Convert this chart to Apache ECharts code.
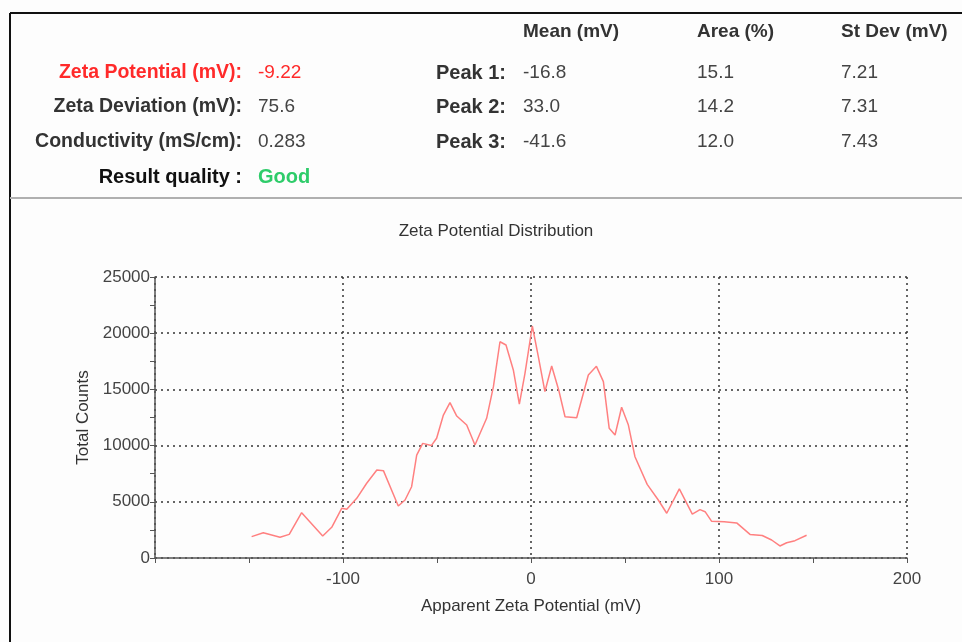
<!DOCTYPE html>
<html>
<head>
<meta charset="utf-8">
<script src="https://cdn.jsdelivr.net/npm/echarts@6/dist/echarts.min.js"></script>
<style>
html,body{margin:0;padding:0;background:#fdfdfd;}
#chart{width:962px;height:642px;}
</style>
</head>
<body>
<div id="chart"></div>
<script>
// Distribution data (Apparent Zeta Potential in mV, Total Counts)
const zetaMv = [-148.6,-142.4,-133.5,-128.6,-122,-110.8,-106,-100.7,-98,-92.7,-87.4,-82,-78.5,-70.6,-67,-63.5,-60.8,-57.6,-53,-50.2,-46.6,-43.1,-39.5,-34.2,-29.8,-23.6,-20,-16.5,-13.3,-9.4,-6.2,-3.2,0.7,3.9,7.4,11,14.8,18.1,24.3,30.5,34.8,38.5,41.6,44.7,48.2,51.8,55.3,61.8,67.7,72.2,78.9,85.8,89.9,92.6,96.1,102.8,109.4,116.5,123,128,132.4,136,140.4,146.6];
const totalCounts = [1900,2250,1850,2100,4030,1960,2730,4420,4330,5310,6650,7830,7770,4630,5160,6340,9160,10200,10000,10650,12720,13820,12630,11830,10050,12430,15240,19240,18950,16730,13700,16430,20640,17910,14800,17080,14900,12570,12480,16280,17050,15690,11540,10940,13410,11830,9010,6550,5160,3980,6150,3910,4300,4120,3260,3230,3120,2100,2000,1600,1070,1360,1540,2020];

// Summary panel text
const summaryLabels = ["Zeta Potential (mV):","Zeta Deviation (mV):","Conductivity (mS/cm):","Result quality :"];
const summaryValues = ["-9.22","75.6","0.283","Good"];
const peakHeaders = ["Mean (mV)","Area (%)","St Dev (mV)"];
const peakLabels = ["Peak 1:","Peak 2:","Peak 3:"];
const peakMean = ["-16.8","33.0","-41.6"];
const peakArea = ["15.1","14.2","12.0"];
const peakStDev = ["7.21","7.31","7.43"];

const chart = echarts.init(document.getElementById('chart'));
const F = 'Liberation Sans, Arial, sans-serif';

const graphics = [];
// frame lines
graphics.push({type:'line',shape:{x1:10,y1:13,x2:962,y2:13},style:{stroke:'#111',lineWidth:2}});
graphics.push({type:'line',shape:{x1:10,y1:13,x2:10,y2:642},style:{stroke:'#111',lineWidth:2}});
graphics.push({type:'line',shape:{x1:10,y1:198,x2:962,y2:198},style:{stroke:'#b0b0b0',lineWidth:2}});

const rowY = [73,107,142,177];
summaryLabels.forEach((t,i)=>{
  const red = i===0, big = i===3;
  graphics.push({type:'text',style:{text:t,x:242,y:rowY[i],align:'right',verticalAlign:'middle',
    font:'bold '+(big?20:19.5)+'px '+F,fill:red?'#ff2a2a':(big?'#111':'#333')}});
});
summaryValues.forEach((t,i)=>{
  const red = i===0, good = i===3;
  graphics.push({type:'text',style:{text:t,x:258,y:rowY[i],align:'left',verticalAlign:'middle',
    font:(good?'bold 20px ':'19px ')+F,fill:red?'#ff2a2a':(good?'#2ecc6a':'#444')}});
});
const colX = [523,697,841];
peakHeaders.forEach((t,i)=>{
  graphics.push({type:'text',style:{text:t,x:colX[i],y:32,align:'left',verticalAlign:'middle',font:'bold 19px '+F,fill:'#333'}});
});
peakLabels.forEach((t,i)=>{
  graphics.push({type:'text',style:{text:t,x:506,y:rowY[i],align:'right',verticalAlign:'middle',font:'bold 20px '+F,fill:'#333'}});
  [peakMean,peakArea,peakStDev].forEach((arr,j)=>{
    graphics.push({type:'text',style:{text:arr[i],x:colX[j],y:rowY[i],align:'left',verticalAlign:'middle',font:'19px '+F,fill:'#444'}});
  });
});

const dotted = {color:'#333',width:1.5,type:[2,4]};
chart.setOption({
  backgroundColor:'#fdfdfd',
  animation:false,
  title:{text:'Zeta Potential Distribution',left:491,top:218,textAlign:'center',
    textStyle:{fontFamily:F,fontSize:17,fontWeight:'normal',color:'#333'}},
  grid:{left:155,right:55,top:277,bottom:84,containLabel:false},
  xAxis:{type:'value',min:-200,max:200,interval:100,
    name:'Apparent Zeta Potential (mV)',nameLocation:'middle',nameGap:40,
    nameTextStyle:{fontFamily:F,fontSize:17,color:'#333'},
    axisLine:{show:true,onZero:false,lineStyle:{color:'#555',width:1.5}},
    axisTick:{show:true,inside:false,length:5,lineStyle:{color:'#555'}},
    minorTick:{show:true,splitNumber:2,length:5,lineStyle:{color:'#555'}},
    axisLabel:{fontFamily:F,fontSize:17,color:'#444',margin:13,showMinLabel:false},
    splitLine:{show:true,lineStyle:dotted}},
  yAxis:{type:'value',min:0,max:25000,interval:5000,
    name:'Total Counts',nameLocation:'middle',nameGap:62,nameRotate:90,
    nameTextStyle:{fontFamily:F,fontSize:17,color:'#333'},
    axisLine:{show:true,onZero:false,lineStyle:{color:'#555',width:1.5}},
    axisTick:{show:true,inside:false,length:5,lineStyle:{color:'#555'}},
    minorTick:{show:true,splitNumber:2,length:5,lineStyle:{color:'#555'}},
    axisLabel:{fontFamily:F,fontSize:17,color:'#444',margin:5,formatter:v=>String(v)},
    splitLine:{show:true,lineStyle:dotted}},
  series:[{type:'line',data:zetaMv.map((x,i)=>[x,totalCounts[i]]),
    showSymbol:false,smooth:false,lineStyle:{color:'#ff8080',width:1.5}}],
  graphic:graphics
});
</script>
</body>
</html>
